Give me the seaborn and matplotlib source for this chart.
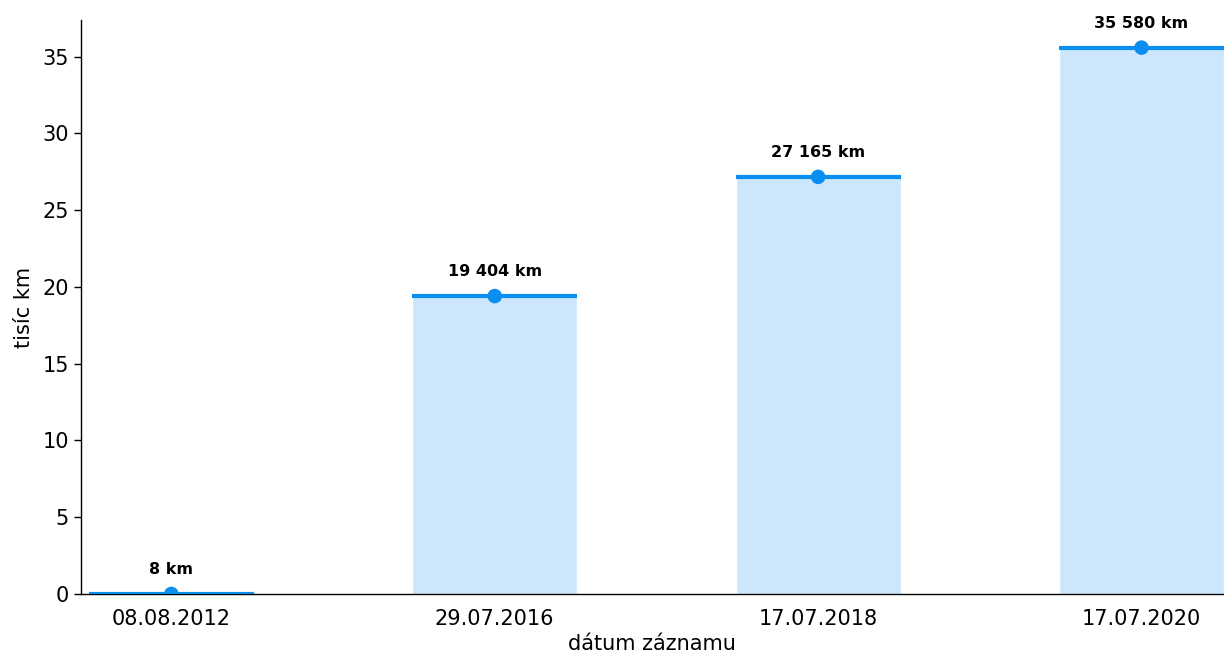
import matplotlib
matplotlib.use("Agg")
import matplotlib.pyplot as plt
import seaborn as sns
import pandas as pd

# Odometer readings by record date
dates = ["08.08.2012", "29.07.2016", "17.07.2018", "17.07.2020"]
km = [8, 19404, 27165, 35580]

df = pd.DataFrame({"datum": dates, "km": km})
df["tis_km"] = df["km"] / 1000.0

sns.set_style("white")
plt.rcParams["font.family"] = ["DejaVu Sans"]
plt.rcParams["text.color"] = "black"
plt.rcParams["axes.labelcolor"] = "black"

fig = plt.figure(figsize=(12.24, 6.55), dpi=100)
ax = fig.add_axes([0.066, 0.093, 0.934, 0.876])

fill_color = "#cce7fb"
line_color = "#0a8ff0"
bar_w = 0.51

sns.barplot(data=df, x="datum", y="tis_km", color=fill_color, saturation=1,
            width=bar_w, ax=ax, zorder=1)

xs = range(len(df))
ax.hlines(df["tis_km"], [x - bar_w / 2 for x in xs], [x + bar_w / 2 for x in xs],
          color=line_color, linewidth=3, zorder=3)
sns.scatterplot(x=list(xs), y=df["tis_km"], color=line_color, s=110,
                edgecolor="none", ax=ax, zorder=4)

for x, v, k in zip(xs, df["tis_km"], df["km"]):
    label = f"{k:,} km".replace(",", " ")
    ax.annotate(label, (x, v), xytext=(0, 12), textcoords="offset points",
                ha="center", va="bottom", fontsize=11.5, fontweight="bold",
                color="black")

ax.set_xlim(-0.28, len(df) - 1 + 0.255)
ax.set_ylim(0, max(df["tis_km"]) * 1.05)
ax.set_yticks(range(0, 36, 5))
ax.set_xlabel("dátum záznamu", fontsize=15, labelpad=3)
ax.set_ylabel("tisíc km", fontsize=15, labelpad=6)
ax.tick_params(axis="both", labelsize=15, colors="black")
ax.tick_params(axis="y", left=True, length=5, width=1)
ax.tick_params(axis="x", bottom=False, pad=7.5)
for s in ["top", "right"]:
    ax.spines[s].set_visible(False)
for s in ["left", "bottom"]:
    ax.spines[s].set_color("black")
    ax.spines[s].set_linewidth(1)

fig.savefig("out.png", dpi=100)
